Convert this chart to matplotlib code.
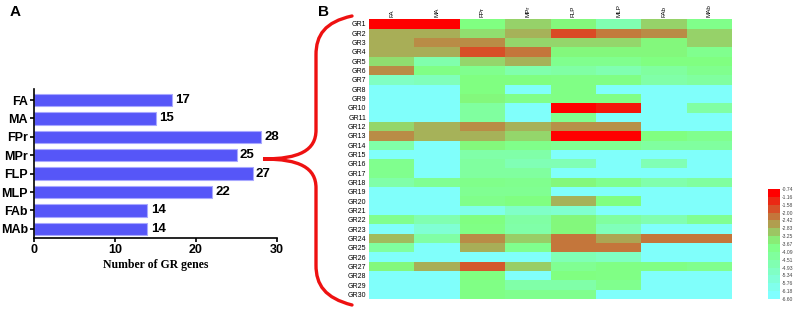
import numpy as np
import matplotlib
matplotlib.use("Agg")
import matplotlib.pyplot as plt
from matplotlib.colors import LinearSegmentedColormap, Normalize, BoundaryNorm
from matplotlib.path import Path
from matplotlib.patches import PathPatch

# ---------------- data ----------------
tissues = ["FA", "MA", "FPr", "MPr", "FLP", "MLP", "FAb", "MAb"]
gene_counts = [17, 15, 28, 25, 27, 22, 14, 14]

genes = ["GR%d" % i for i in range(1, 31)]
C = -6.5
expr = [
    [-0.74, -0.74, -3.7, -3.15, -3.6, -4.8, -3.15, -3.9],     # GR1
    [-2.75, -2.75, -3.3, -2.8, -1.6, -2.15, -2.35, -3.15],    # GR2
    [-2.75, -2.35, -2.35, -3.2, -3.2, -3.2, -3.6, -3.15],     # GR3
    [-2.75, -2.75, -1.65, -2.1, -3.6, -3.6, -3.6, -4.0],      # GR4
    [-3.3, -4.7, -3.2, -2.8, -4.0, -4.0, -3.7, -3.7],         # GR5
    [-2.35, -3.8, -4.0, -4.7, -4.5, -4.8, -4.4, -4.0],        # GR6
    [-5.2, -5.0, -3.7, -3.7, -3.8, -3.8, -4.6, -4.4],         # GR7
    [C, C, -3.7, C, -3.8, C, C, C],                           # GR8
    [C, C, -3.6, -3.9, -3.8, -3.8, C, C],                     # GR9
    [C, C, -4.4, C, -0.74, -1.0, C, -4.5],                    # GR10
    [C, C, -4.4, C, -4.0, C, C, C],                           # GR11
    [-3.2, -2.8, -2.35, -2.8, -2.4, -2.4, C, C],              # GR12
    [-2.35, -2.8, -2.8, -3.2, -0.74, -0.74, -3.7, -4.0],      # GR13
    [-4.6, C, -3.6, -3.9, -4.1, -4.1, -4.4, -4.4],            # GR14
    [C, C, -4.6, -4.6, C, C, C, C],                           # GR15
    [-4.0, C, -4.4, -4.9, -4.9, C, -4.9, C],                  # GR16
    [-4.0, C, -4.4, -4.4, C, C, C, C],                        # GR17
    [-4.6, -4.1, -3.9, -4.0, -3.6, -4.0, -4.7, -4.4],         # GR18
    [C, C, -4.1, -4.1, C, C, C, C],                           # GR19
    [C, C, -3.9, -3.7, -2.8, -3.7, C, C],                     # GR20
    [C, C, -6.1, -5.3, -5.5, C, C, C],                        # GR21
    [-4.0, -4.8, -3.7, -4.5, -3.6, -4.4, -4.8, -4.1],         # GR22
    [C, -5.6, -3.8, -4.6, -3.6, -5.0, C, C],                  # GR23
    [-2.9, -4.5, -2.35, -3.1, -2.1, -2.65, -2.1, -2.1],       # GR24
    [-4.4, C, -2.75, -4.0, -2.1, -2.1, C, C],                 # GR25
    [C, C, C, C, -4.9, -5.2, C, C],                           # GR26
    [-3.6, -2.75, -1.75, -3.1, -4.1, -3.8, -3.8, -4.0],       # GR27
    [C, C, -3.7, C, -3.7, -3.8, C, C],                        # GR28
    [C, C, -3.8, -4.6, -4.6, -4.0, C, C],                     # GR29
    [C, C, -3.8, -4.0, -4.0, C, C, C],                        # GR30
]
cbar_ticks = [-0.74, -1.16, -1.58, -2.00, -2.42, -2.83, -3.25, -3.67,
              -4.09, -4.51, -4.93, -5.34, -5.76, -6.18, -6.60]

# ---------------- figure ----------------
W, H = 794, 310
fig = plt.figure(figsize=(W / 100, H / 100), dpi=100)

def fx(x):
    return x / W

def fy(y):
    return 1 - y / H

# ---- Panel A: bar chart ----
axA = fig.add_axes([fx(34), fy(238), fx(277) - fx(34), fy(89) - fy(238)])
ypos = np.arange(len(tissues))
axA.barh(ypos, gene_counts, height=0.68, color="#5656f8", edgecolor="#a8a8ff", linewidth=0.8)
for y, v in zip(ypos, gene_counts):
    axA.text(v + 0.4, y, str(v), va="center", ha="left", fontsize=9.5,
             fontweight="bold", family="Liberation Sans")
axA.set_ylim(7.5, -0.6)
axA.set_xlim(0, 30)
axA.set_yticks(ypos)
axA.set_yticklabels(tissues, fontsize=9, fontweight="bold", family="Liberation Sans")
axA.set_xticks([0, 10, 20, 30])
axA.set_xticklabels(["0", "10", "20", "30"], fontsize=9, fontweight="bold", family="Liberation Sans")
axA.spines["top"].set_visible(False)
axA.spines["right"].set_visible(False)
axA.spines["left"].set_linewidth(1.2)
axA.spines["bottom"].set_linewidth(1.2)
axA.tick_params(axis="both", width=1.2, length=3, pad=1.5)
axA.set_xlabel("Number of GR genes", fontsize=8.5, fontweight="bold",
               family="Liberation Serif", labelpad=2)

fig.text(fx(10), fy(12), "A", fontsize=11, fontweight="bold", family="Liberation Sans",
         va="center", ha="left")
fig.text(fx(318), fy(12), "B", fontsize=11, fontweight="bold", family="Liberation Sans",
         va="center", ha="left")

# ---- Panel B: heatmap ----
cmap_base = LinearSegmentedColormap.from_list(
    "rgc",
    [(0.0, (128 / 255, 1.0, 1.0)),
     (0.5, (128 / 255, 1.0, 128 / 255)),
     (1.0, (1.0, 0.0, 0.0))])
vmin, vmax = -6.60, -0.74
norm = Normalize(vmin=vmin, vmax=vmax)

axB = fig.add_axes([fx(369), fy(299), fx(732) - fx(369), fy(19.3) - fy(299)])
data = np.array(expr)
axB.pcolormesh(np.arange(len(tissues) + 1), np.arange(len(genes) + 1), data,
               cmap=cmap_base, norm=norm)
axB.set_xlim(0, len(tissues))
axB.set_ylim(len(genes), 0)
axB.set_xticks(np.arange(len(tissues)) + 0.5)
axB.set_xticklabels(tissues, rotation=90, fontsize=4.5, family="Liberation Sans")
axB.xaxis.tick_top()
axB.set_yticks(np.arange(len(genes)) + 0.5)
axB.set_yticklabels(genes, fontsize=5, family="Liberation Sans")
axB.tick_params(axis="both", length=0, pad=2)
for s in axB.spines.values():
    s.set_visible(False)

# ---- colorbar (stepped) ----
cax = fig.add_axes([fx(768), fy(299), fx(780) - fx(768), fy(189) - fy(299)])
bnorm = BoundaryNorm(sorted(cbar_ticks), ncolors=256)
sm = matplotlib.cm.ScalarMappable(norm=bnorm, cmap=cmap_base)
cb = fig.colorbar(sm, cax=cax, ticks=cbar_ticks)
cb.ax.set_yticklabels(["%.2f" % t for t in cbar_ticks], fontsize=3.6,
                      family="Liberation Sans", color="#444444")
cb.ax.tick_params(length=0, pad=1)
cb.outline.set_visible(False)

# ---- brace ----
pts = [(352, 16), (325, 22), (316, 35), (316, 55),
       (316, 130),
       (316, 150), (300, 159), (263, 159),
       (300, 159), (316, 168), (316, 188),
       (316, 265),
       (316, 285), (325, 298), (352, 305)]
codes = [Path.MOVETO, Path.CURVE4, Path.CURVE4, Path.CURVE4,
         Path.LINETO,
         Path.CURVE4, Path.CURVE4, Path.CURVE4,
         Path.CURVE4, Path.CURVE4, Path.CURVE4,
         Path.LINETO,
         Path.CURVE4, Path.CURVE4, Path.CURVE4]
verts = [(fx(x), fy(y)) for x, y in pts]
brace = PathPatch(Path(verts, codes), transform=fig.transFigure, fill=False,
                  edgecolor="#ee1111", linewidth=2.4, capstyle="round")
fig.patches.append(brace)

fig.savefig("out.png", dpi=100)
